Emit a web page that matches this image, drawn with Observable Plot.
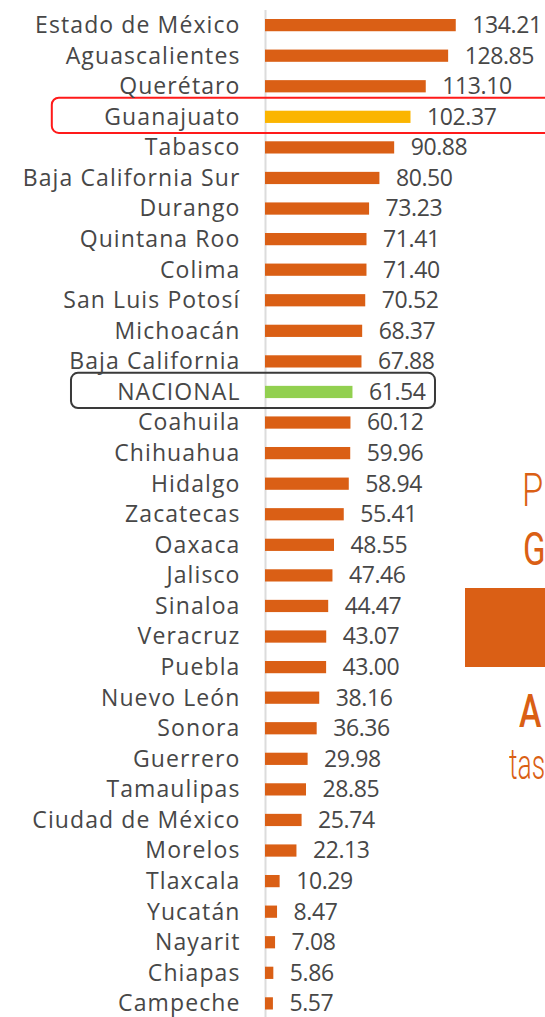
<!DOCTYPE html>
<html>
<head>
<meta charset="utf-8">
<script src="https://cdn.jsdelivr.net/npm/d3@7"></script>
<script src="https://cdn.jsdelivr.net/npm/@observablehq/plot@0.6"></script>
<style>
  html, body { margin: 0; padding: 0; background: #fff; overflow: hidden; }
  #wrap { position: relative; width: 545px; height: 1017px; overflow: hidden; }
  #chart svg { display: block; }
  #chart g[text-anchor="end"] text { letter-spacing: 1.1px; }
  #chart g[text-anchor="start"] text { letter-spacing: -0.4px; }
  .side { position: absolute; color: #DA5F15; font-family: Roboto, sans-serif; white-space: nowrap; line-height: 1; transform-origin: 0 0; }
  .sidebox { position: absolute; background: #DA5F15; }
</style>
</head>
<body>
<div id="wrap">
  <div id="chart"></div>
  <div class="side" style="left:522px; top:467px; font-size:46px; font-weight:300; transform:scaleX(0.75);">P</div>
  <div class="side" style="left:523px; top:526px; font-size:46px; font-weight:400; transform:scaleX(0.72);">G</div>
  <div class="sidebox" style="left:465px; top:588px; width:90px; height:79px;"></div>
  <div class="side" style="left:519px; top:687px; font-size:47px; font-weight:500; transform:scaleX(0.72);">A</div>
  <div class="side" style="left:509px; top:744px; font-size:42px; font-weight:300; transform:scaleX(0.63);">tas</div>
</div>
<script>
const states = [
  "Estado de México", "Aguascalientes", "Querétaro", "Guanajuato", "Tabasco",
  "Baja California Sur", "Durango", "Quintana Roo", "Colima", "San Luis Potosí",
  "Michoacán", "Baja California", "NACIONAL", "Coahuila", "Chihuahua", "Hidalgo",
  "Zacatecas", "Oaxaca", "Jalisco", "Sinaloa", "Veracruz", "Puebla", "Nuevo León",
  "Sonora", "Guerrero", "Tamaulipas", "Ciudad de México", "Morelos", "Tlaxcala",
  "Yucatán", "Nayarit", "Chiapas", "Campeche"
];
const values = [
  134.21, 128.85, 113.10, 102.37, 90.88,
  80.50, 73.23, 71.41, 71.40, 70.52,
  68.37, 67.88, 61.54, 60.12, 59.96, 58.94,
  55.41, 48.55, 47.46, 44.47, 43.07, 43.00, 38.16,
  36.36, 29.98, 28.85, 25.74, 22.13, 10.29,
  8.47, 7.08, 5.86, 5.57
];
const highlightColors = { "Guanajuato": "#FBB500", "NACIONAL": "#92D050" };
const defaultColor = "#DA5F15";
// highlight frames (extent in data units of the x scale)
const highlightBoxes = [
  { name: "Guanajuato", from: -150, to: 208, stroke: "#FF1A1A" },
  { name: "NACIONAL", from: -136.5, to: 119.6, stroke: "#3a3a3a" }
];

const data = states.map((s, i) => ({ state: s, value: values[i], color: highlightColors[s] || defaultColor }));

const textColor = "#474747";
const font = "'Open Sans', sans-serif";

const chart = Plot.plot({
  width: 545,
  height: 1017,
  marginLeft: 265,
  marginRight: 0,
  marginTop: 19,
  marginBottom: 7.5,
  style: { background: "transparent", fontFamily: font, overflow: "visible" },
  x: { domain: [0, 197], axis: null },
  y: { domain: states, axis: null, paddingInner: 0.6, paddingOuter: 0, round: false },
  marks: [
    Plot.ruleX([0], { stroke: "#dcdcdc", strokeWidth: 2, insetTop: -9, insetBottom: -8 }),
    Plot.barX(data, { y: "state", x: "value", fill: "color" }),
    Plot.barX(highlightBoxes, {
      y: "name", x1: "from", x2: "to", fill: "none", stroke: "stroke",
      strokeWidth: 2, rx: 7, insetTop: -13, insetBottom: -10
    }),
    Plot.text(data, {
      y: "state", x: 0, text: "state", textAnchor: "end", dx: -25,
      fill: textColor, fontSize: 23
    }),
    Plot.text(data, {
      y: "state", x: "value", text: d => d.value.toFixed(2), textAnchor: "start", dx: 16,
      fill: textColor, fontSize: 23
    })
  ]
});
document.getElementById("chart").appendChild(chart);
</script>
</body>
</html>
